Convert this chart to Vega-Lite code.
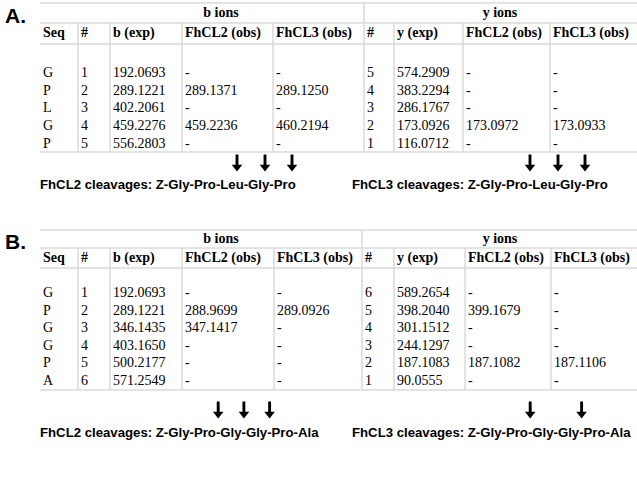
{
  "$schema": "https://vega.github.io/schema/vega-lite/v6.json",
  "width": 637,
  "height": 484,
  "autosize": {"type": "none"},
  "padding": 0,
  "background": "white",
  "config": {"view": {"stroke": null}, "axis": {"disable": true}},
  "datasets": {
    "columns": [
      {"key": "seq", "col": 0, "label": "Seq"},
      {"key": "b_n", "col": 1, "label": "#"},
      {"key": "b_exp", "col": 2, "label": "b (exp)"},
      {"key": "b_cl2", "col": 3, "label": "FhCL2 (obs)"},
      {"key": "b_cl3", "col": 4, "label": "FhCL3 (obs)"},
      {"key": "y_n", "col": 5, "label": "#"},
      {"key": "y_exp", "col": 6, "label": "y (exp)"},
      {"key": "y_cl2", "col": 7, "label": "FhCL2 (obs)"},
      {"key": "y_cl3", "col": 8, "label": "FhCL3 (obs)"}
    ],
    "ions": [{"ion": "b ions"}, {"ion": "y ions"}],
    "tableA": [
      {"seq": "G", "b_n": 1, "b_exp": "192.0693", "b_cl2": "-", "b_cl3": "-", "y_n": 5, "y_exp": "574.2909", "y_cl2": "-", "y_cl3": "-"},
      {"seq": "P", "b_n": 2, "b_exp": "289.1221", "b_cl2": "289.1371", "b_cl3": "289.1250", "y_n": 4, "y_exp": "383.2294", "y_cl2": "-", "y_cl3": "-"},
      {"seq": "L", "b_n": 3, "b_exp": "402.2061", "b_cl2": "-", "b_cl3": "-", "y_n": 3, "y_exp": "286.1767", "y_cl2": "-", "y_cl3": "-"},
      {"seq": "G", "b_n": 4, "b_exp": "459.2276", "b_cl2": "459.2236", "b_cl3": "460.2194", "y_n": 2, "y_exp": "173.0926", "y_cl2": "173.0972", "y_cl3": "173.0933"},
      {"seq": "P", "b_n": 5, "b_exp": "556.2803", "b_cl2": "-", "b_cl3": "-", "y_n": 1, "y_exp": "116.0712", "y_cl2": "-", "y_cl3": "-"}
    ],
    "tableB": [
      {"seq": "G", "b_n": 1, "b_exp": "192.0693", "b_cl2": "-", "b_cl3": "-", "y_n": 6, "y_exp": "589.2654", "y_cl2": "-", "y_cl3": "-"},
      {"seq": "P", "b_n": 2, "b_exp": "289.1221", "b_cl2": "288.9699", "b_cl3": "289.0926", "y_n": 5, "y_exp": "398.2040", "y_cl2": "399.1679", "y_cl3": "-"},
      {"seq": "G", "b_n": 3, "b_exp": "346.1435", "b_cl2": "347.1417", "b_cl3": "-", "y_n": 4, "y_exp": "301.1512", "y_cl2": "-", "y_cl3": "-"},
      {"seq": "G", "b_n": 4, "b_exp": "403.1650", "b_cl2": "-", "b_cl3": "-", "y_n": 3, "y_exp": "244.1297", "y_cl2": "-", "y_cl3": "-"},
      {"seq": "P", "b_n": 5, "b_exp": "500.2177", "b_cl2": "-", "b_cl3": "-", "y_n": 2, "y_exp": "187.1083", "y_cl2": "187.1082", "y_cl3": "187.1106"},
      {"seq": "A", "b_n": 6, "b_exp": "571.2549", "b_cl2": "-", "b_cl3": "-", "y_n": 1, "y_exp": "90.0555", "y_cl2": "-", "y_cl3": "-"}
    ],
    "captionsA": [
      {"enzyme": "FhCL2", "text": "FhCL2 cleavages: Z-Gly-Pro-Leu-Gly-Pro"},
      {"enzyme": "FhCL3", "text": "FhCL3 cleavages: Z-Gly-Pro-Leu-Gly-Pro"}
    ],
    "captionsB": [
      {"enzyme": "FhCL2", "text": "FhCL2 cleavages: Z-Gly-Pro-Gly-Gly-Pro-Ala"},
      {"enzyme": "FhCL3", "text": "FhCL3 cleavages: Z-Gly-Pro-Gly-Gly-Pro-Ala"}
    ],
    "cleavagesA": [
      {"enzyme": "FhCL2", "site": 2}, {"enzyme": "FhCL2", "site": 3}, {"enzyme": "FhCL2", "site": 4},
      {"enzyme": "FhCL3", "site": 2}, {"enzyme": "FhCL3", "site": 3}, {"enzyme": "FhCL3", "site": 4}
    ],
    "cleavagesB": [
      {"enzyme": "FhCL2", "site": 2}, {"enzyme": "FhCL2", "site": 3}, {"enzyme": "FhCL2", "site": 4},
      {"enzyme": "FhCL3", "site": 2}, {"enzyme": "FhCL3", "site": 4}
    ],
    "panelA": [{"panel": "A."}],
    "panelB": [{"panel": "B."}]
  },
  "layer": [
    {
      "resolve": {"scale": {"x": "independent", "xOffset": "independent"}},
      "layer": [
        {
          "layer": [
            {
              "data": {"values": [{}]},
              "mark": {"type": "rule", "color": "#dadada", "strokeWidth": 1.5},
              "encoding": {
                "x": {"datum": 0, "type": "quantitative", "scale": {"domain": [-1, 0, 1, 2, 3, 4, 5, 6, 7, 8, 9], "range": [5, 40, 78, 110, 182, 273, 364, 394, 463, 550, 637], "zero": false, "nice": false}},
                "x2": {"datum": 9},
                "y": {"datum": -2, "type": "quantitative", "scale": {"domain": [-2, -1.5, -1, -0.5, 0, 1, 5, 5.5, 6, 7], "range": [3, 13, 23, 33, 44, 73, 143.5, 152, 163, 185], "zero": false, "nice": false}}
              }
            },
            {
              "data": {"values": [{}]},
              "mark": {"type": "rule", "color": "#dadada", "strokeWidth": 1.5},
              "encoding": {"x": {"datum": 0, "type": "quantitative"}, "x2": {"datum": 9}, "y": {"datum": -1, "type": "quantitative"}}
            },
            {
              "data": {"values": [{}]},
              "mark": {"type": "rule", "color": "#dadada", "strokeWidth": 1.5},
              "encoding": {"x": {"datum": 0, "type": "quantitative"}, "x2": {"datum": 9}, "y": {"datum": 0, "type": "quantitative"}}
            },
            {
              "data": {"values": [{}]},
              "mark": {"type": "rule", "color": "#dadada", "strokeWidth": 1.5},
              "encoding": {"x": {"datum": 0, "type": "quantitative"}, "x2": {"datum": 9}, "y": {"datum": 5.5, "type": "quantitative"}}
            },
            {
              "data": {"name": "columns"},
              "transform": [{"filter": "datum.col > 0"}],
              "mark": {"type": "rule", "color": "#dadada", "strokeWidth": 1.5},
              "encoding": {"x": {"field": "col", "type": "quantitative"}, "y": {"datum": -1, "type": "quantitative"}, "y2": {"datum": 5.5}}
            },
            {
              "data": {"values": [{}]},
              "mark": {"type": "rule", "color": "#dadada", "strokeWidth": 1.5},
              "encoding": {"x": {"datum": 5, "type": "quantitative"}, "y": {"datum": -2, "type": "quantitative"}, "y2": {"datum": -1}}
            },
            {
              "data": {"name": "panelA"},
              "mark": {"type": "text", "align": "left", "baseline": "middle", "font": "Liberation Sans", "fontWeight": "bold", "fontSize": 21, "color": "black"},
              "encoding": {"x": {"datum": -1, "type": "quantitative"}, "y": {"datum": -1.3, "type": "quantitative"}, "text": {"field": "panel"}}
            },
            {
              "data": {"name": "columns"},
              "mark": {"type": "text", "align": "left", "baseline": "middle", "dx": 3, "font": "Liberation Serif", "fontWeight": "bold", "fontSize": 14, "color": "black"},
              "encoding": {"x": {"field": "col", "type": "quantitative"}, "y": {"datum": -0.5, "type": "quantitative"}, "text": {"field": "label"}}
            },
            {
              "data": {"name": "tableA"},
              "transform": [
                {"fold": ["seq", "b_n", "b_exp", "b_cl2", "b_cl3", "y_n", "y_exp", "y_cl2", "y_cl3"], "as": ["key", "value"]},
                {"lookup": "key", "from": {"data": {"name": "columns"}, "key": "key", "fields": ["col"]}}
              ],
              "mark": {"type": "text", "align": "left", "baseline": "middle", "dx": 3, "font": "Liberation Serif", "fontSize": 14, "color": "black"},
              "encoding": {"x": {"field": "col", "type": "quantitative"}, "y": {"field": "b_n", "type": "quantitative"}, "text": {"field": "value"}}
            }
          ]
        },
        {
          "data": {"name": "ions"},
          "mark": {"type": "text", "align": "center", "baseline": "middle", "font": "Liberation Serif", "fontWeight": "bold", "fontSize": 14, "color": "black"},
          "encoding": {
            "x": {"field": "ion", "type": "nominal", "scale": {"type": "point", "domain": ["b ions", "y ions"], "range": [221, 500], "padding": 0}},
            "y": {"datum": -1.5, "type": "quantitative"},
            "text": {"field": "ion"}
          }
        },
        {
          "resolve": {"scale": {"xOffset": "independent"}},
          "layer": [
            {
              "data": {"name": "captionsA"},
              "mark": {"type": "text", "align": "left", "baseline": "middle", "font": "Liberation Sans", "fontWeight": "bold", "fontSize": 13.2, "color": "black"},
              "encoding": {
                "x": {"field": "enzyme", "type": "nominal", "scale": {"type": "point", "domain": ["FhCL2", "FhCL3"], "range": [40, 352], "padding": 0}},
                "y": {"datum": 7, "type": "quantitative"},
                "text": {"field": "text"}
              }
            },
            {
              "data": {"name": "cleavagesA"},
              "transform": [{"filter": "datum.enzyme === 'FhCL2'"}],
              "mark": {"type": "point", "filled": true, "color": "black", "opacity": 1, "strokeWidth": 0, "size": 289, "shape": "M-0.17,-1L0.17,-1L0.17,0.2L0.62,0.2L0,1L-0.62,0.2L-0.17,0.2Z"},
              "encoding": {
                "x": {"field": "enzyme", "type": "nominal"},
                "xOffset": {"field": "site", "type": "quantitative", "scale": {"domain": [2, 3, 4], "range": [197, 225, 252], "zero": false, "nice": false}},
                "y": {"datum": 6, "type": "quantitative"}
              }
            },
            {
              "data": {"name": "cleavagesA"},
              "transform": [{"filter": "datum.enzyme === 'FhCL3'"}],
              "mark": {"type": "point", "filled": true, "color": "black", "opacity": 1, "strokeWidth": 0, "size": 289, "shape": "M-0.17,-1L0.17,-1L0.17,0.2L0.62,0.2L0,1L-0.62,0.2L-0.17,0.2Z"},
              "encoding": {
                "x": {"field": "enzyme", "type": "nominal"},
                "xOffset": {"field": "site", "type": "quantitative", "scale": {"domain": [2, 3, 4], "range": [178, 206, 233], "zero": false, "nice": false}},
                "y": {"datum": 6, "type": "quantitative"}
              }
            }
          ]
        }
      ]
    },
    {
      "resolve": {"scale": {"x": "independent", "xOffset": "independent"}},
      "layer": [
        {
          "layer": [
            {
              "data": {"values": [{}]},
              "mark": {"type": "rule", "color": "#dadada", "strokeWidth": 1.5},
              "encoding": {
                "x": {"datum": 0, "type": "quantitative", "scale": {"domain": [-1, 0, 1, 2, 3, 4, 5, 6, 7, 8, 9], "range": [5, 40, 78, 110, 182, 274, 362, 394, 465, 551, 637], "zero": false, "nice": false}},
                "x2": {"datum": 9},
                "y": {"datum": -2, "type": "quantitative", "scale": {"domain": [-2, -1.5, -1, -0.5, 0, 1, 6, 6.5, 7, 8], "range": [230, 239, 248, 258, 268, 293, 381, 390, 410, 433], "zero": false, "nice": false}}
              }
            },
            {
              "data": {"values": [{}]},
              "mark": {"type": "rule", "color": "#dadada", "strokeWidth": 1.5},
              "encoding": {"x": {"datum": 0, "type": "quantitative"}, "x2": {"datum": 9}, "y": {"datum": -1, "type": "quantitative"}}
            },
            {
              "data": {"values": [{}]},
              "mark": {"type": "rule", "color": "#dadada", "strokeWidth": 1.5},
              "encoding": {"x": {"datum": 0, "type": "quantitative"}, "x2": {"datum": 9}, "y": {"datum": 0, "type": "quantitative"}}
            },
            {
              "data": {"values": [{}]},
              "mark": {"type": "rule", "color": "#dadada", "strokeWidth": 1.5},
              "encoding": {"x": {"datum": 0, "type": "quantitative"}, "x2": {"datum": 9}, "y": {"datum": 6.5, "type": "quantitative"}}
            },
            {
              "data": {"name": "columns"},
              "transform": [{"filter": "datum.col > 0"}],
              "mark": {"type": "rule", "color": "#dadada", "strokeWidth": 1.5},
              "encoding": {"x": {"field": "col", "type": "quantitative"}, "y": {"datum": -1, "type": "quantitative"}, "y2": {"datum": 6.5}}
            },
            {
              "data": {"values": [{}]},
              "mark": {"type": "rule", "color": "#dadada", "strokeWidth": 1.5},
              "encoding": {"x": {"datum": 5, "type": "quantitative"}, "y": {"datum": -2, "type": "quantitative"}, "y2": {"datum": -1}}
            },
            {
              "data": {"name": "panelB"},
              "mark": {"type": "text", "align": "left", "baseline": "middle", "font": "Liberation Sans", "fontWeight": "bold", "fontSize": 21, "color": "black"},
              "encoding": {"x": {"datum": -1, "type": "quantitative"}, "y": {"datum": -1.3, "type": "quantitative"}, "text": {"field": "panel"}}
            },
            {
              "data": {"name": "columns"},
              "mark": {"type": "text", "align": "left", "baseline": "middle", "dx": 3, "font": "Liberation Serif", "fontWeight": "bold", "fontSize": 14, "color": "black"},
              "encoding": {"x": {"field": "col", "type": "quantitative"}, "y": {"datum": -0.5, "type": "quantitative"}, "text": {"field": "label"}}
            },
            {
              "data": {"name": "tableB"},
              "transform": [
                {"fold": ["seq", "b_n", "b_exp", "b_cl2", "b_cl3", "y_n", "y_exp", "y_cl2", "y_cl3"], "as": ["key", "value"]},
                {"lookup": "key", "from": {"data": {"name": "columns"}, "key": "key", "fields": ["col"]}}
              ],
              "mark": {"type": "text", "align": "left", "baseline": "middle", "dx": 3, "font": "Liberation Serif", "fontSize": 14, "color": "black"},
              "encoding": {"x": {"field": "col", "type": "quantitative"}, "y": {"field": "b_n", "type": "quantitative"}, "text": {"field": "value"}}
            }
          ]
        },
        {
          "data": {"name": "ions"},
          "mark": {"type": "text", "align": "center", "baseline": "middle", "font": "Liberation Serif", "fontWeight": "bold", "fontSize": 14, "color": "black"},
          "encoding": {
            "x": {"field": "ion", "type": "nominal", "scale": {"type": "point", "domain": ["b ions", "y ions"], "range": [221, 500], "padding": 0}},
            "y": {"datum": -1.5, "type": "quantitative"},
            "text": {"field": "ion"}
          }
        },
        {
          "layer": [
            {
              "data": {"name": "captionsB"},
              "mark": {"type": "text", "align": "left", "baseline": "middle", "font": "Liberation Sans", "fontWeight": "bold", "fontSize": 13.2, "color": "black"},
              "encoding": {
                "x": {"field": "enzyme", "type": "nominal", "scale": {"type": "point", "domain": ["FhCL2", "FhCL3"], "range": [40, 352], "padding": 0}},
                "y": {"datum": 8, "type": "quantitative"},
                "text": {"field": "text"}
              }
            },
            {
              "data": {"name": "cleavagesB"},
              "mark": {"type": "point", "filled": true, "color": "black", "opacity": 1, "strokeWidth": 0, "size": 289, "shape": "M-0.17,-1L0.17,-1L0.17,0.2L0.62,0.2L0,1L-0.62,0.2L-0.17,0.2Z"},
              "encoding": {
                "x": {"field": "enzyme", "type": "nominal"},
                "xOffset": {"field": "site", "type": "quantitative", "scale": {"domain": [2, 3, 4], "range": [178.2, 203.9, 229.6], "zero": false, "nice": false}},
                "y": {"datum": 7, "type": "quantitative"}
              }
            }
          ]
        }
      ]
    }
  ],
  "resolve": {"scale": {"x": "independent", "y": "independent", "xOffset": "independent"}}
}
